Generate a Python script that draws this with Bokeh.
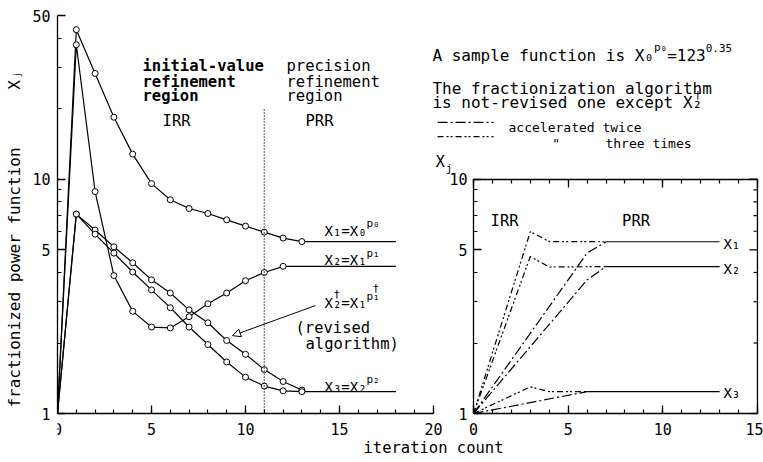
import math
from bokeh.plotting import figure
from bokeh.models import (Range1d, LinearAxis, LogAxis, FixedTicker, BasicTickFormatter,
                          Arrow, NormalHead)
from bokeh.embed import file_html
from bokeh.resources import INLINE
from bokeh.core.properties import value

FONT = "DejaVu Sans Mono"

# ---------------- data : left panel ----------------
iter_x1 = list(range(0, 14))
x1_vals = [1, 43.5, 28.3, 18.4, 12.8, 9.58, 8.17, 7.50, 7.14, 6.71, 6.31, 5.95, 5.61, 5.42]
iter_x2 = list(range(0, 13))
x2_vals = [1, 37.5, 8.86, 3.88, 2.73, 2.34, 2.32, 2.59, 2.94, 3.27, 3.69, 4.00, 4.25]
iter_x2r = list(range(0, 14))
x2r_vals = [1, 7.10, 6.07, 5.15, 4.40, 3.72, 3.27, 2.77, 2.44, 2.05, 1.79, 1.54, 1.37, 1.26]
iter_x3 = list(range(0, 14))
x3_vals = [1, 7.10, 5.83, 4.84, 4.02, 3.37, 2.83, 2.34, 1.97, 1.66, 1.43, 1.31, 1.25, 1.24]
hold_until = 18          # converged value drawn on to this iteration
boundary_iter = 11       # IRR / PRR boundary
boundary_top = 20

# ---------------- data : right panel ----------------
twice_x1 = [0, 6, 7]
x1_twice = [1, 4.84, 5.41]
twice_x2 = [0, 6, 7]
x2_twice = [1, 3.72, 4.24]
twice_x3 = [0, 6]
x3_twice = [1, 1.24]
three_x1 = [0, 3, 4, 7]
x1_three = [1, 5.98, 5.42, 5.41]
three_x2 = [0, 3, 4, 7]
x2_three = [1, 4.68, 4.22, 4.24]
three_x3 = [0, 3, 4, 6]
x3_three = [1, 1.30, 1.24, 1.24]
conv_start = [7, 7, 6]           # iteration where the accelerated runs have converged
conv_vals = [5.41, 4.24, 1.24]   # X1, X2, X3
conv_end = 13

left_xlim = (0, 20)
left_ylim = (1, 50)
right_xlim = (0, 15)
right_ylim = (1, 10)
left_xticks = [0, 5, 10, 15, 20]
left_xminor = list(range(0, 21))
right_xticks = [0, 5, 10, 15]
right_xminor = list(range(0, 16))
left_yticks = [1, 5, 10, 50]
left_yminor = [2, 3, 4, 6, 7, 8, 9, 20, 30, 40]
right_yticks = [1, 5, 10]
right_yminor = [2, 3, 4, 6, 7, 8, 9]

DASH_TWICE = "10 3 2 3"
DASH_THREE = "6 3 2 2 2 3"
MAJ, MIN = 8, 4

p = figure(width=763, height=462, x_range=Range1d(0, 37.553), y_range=Range1d(0.618, 50),
           y_axis_type="log", output_backend="svg", toolbar_location=None,
           min_border_left=57, min_border_right=0, min_border_top=15, min_border_bottom=0)
p.extra_x_ranges = {"r": Range1d(-21.976, 15.319)}
p.grid.visible = False
p.outline_line_color = None
p.background_fill_color = "white"
p.border_fill_color = "white"


def style_axis(ax, labels=True):
    ax.axis_line_color = "black"
    ax.axis_line_width = 1.3
    ax.major_tick_in, ax.major_tick_out = MAJ, 0
    ax.minor_tick_in, ax.minor_tick_out = MIN, 0
    ax.major_tick_line_width = 1.3
    ax.minor_tick_line_width = 1.2
    ax.major_tick_line_color = "black"
    ax.minor_tick_line_color = "black"
    ax.major_label_text_font = FONT
    ax.major_label_text_font_size = "15px"
    ax.major_label_text_color = "black"
    if not labels:
        ax.major_label_text_alpha = 0


xa = p.xaxis[0]
xa.ticker = FixedTicker(ticks=left_xticks, minor_ticks=left_xminor)
xa.bounds = left_xlim
xa.fixed_location = 1
style_axis(xa)
xa.major_label_standoff = 9

ya = p.yaxis[0]
ya.ticker = FixedTicker(ticks=left_yticks, minor_ticks=left_yminor)
ya.formatter = BasicTickFormatter()
ya.bounds = left_ylim
style_axis(ya)
ya.major_label_standoff = 7
ya.axis_label = "fractionized power function" + "\u00a0" * 6 + "X\u2c7c"
ya.axis_label_text_font = FONT
ya.axis_label_text_font_size = "16px"
ya.axis_label_text_font_style = "normal"
ya.axis_label_text_color = "black"
ya.axis_label_standoff = 5

# small panel axes
rb = LinearAxis(x_range_name="r", fixed_location=1, bounds=right_xlim,
                ticker=FixedTicker(ticks=right_xticks, minor_ticks=right_xminor))
style_axis(rb)
rb.major_label_standoff = 9
p.add_layout(rb, "below")
rt = LinearAxis(x_range_name="r", fixed_location=10, bounds=right_xlim,
                ticker=FixedTicker(ticks=right_xticks, minor_ticks=right_xminor))
style_axis(rt, labels=False)
p.add_layout(rt, "above")
rl = LogAxis(x_range_name="r", fixed_location=0, bounds=right_ylim,
             ticker=FixedTicker(ticks=right_yticks, minor_ticks=right_yminor),
             formatter=BasicTickFormatter())
style_axis(rl)
rl.major_label_standoff = 6
p.add_layout(rl, "left")
# right edge of the small panel
p.line([right_xlim[1], right_xlim[1]], list(right_ylim), x_range_name="r",
       line_color="black", line_width=1.3)


# tick marks on the small panel's right edge, drawn as short screen-length rays
def tick_rays(xs, ys, angle, rng="default", length=MAJ, width=1.3):
    p.ray(x=xs, y=ys, length=length, angle=angle, length_units="screen",
          line_color="black", line_width=width, x_range_name=rng)


LEFT = math.pi
tick_rays([right_xlim[1]] * len(right_yticks), right_yticks, LEFT, "r")
tick_rays([right_xlim[1]] * len(right_yminor), right_yminor, LEFT, "r", length=MIN, width=1.2)

# ---------------- left panel curves ----------------
for xs, ys in [(iter_x1, x1_vals), (iter_x2, x2_vals), (iter_x3, x3_vals)]:
    p.line(xs + [hold_until], ys + [ys[-1]], line_color="black", line_width=1.2)
p.line(iter_x2r, x2r_vals, line_color="black", line_width=1.2)
for xs, ys in [(iter_x1, x1_vals), (iter_x2, x2_vals), (iter_x2r, x2r_vals), (iter_x3, x3_vals)]:
    p.scatter(xs[1:], ys[1:], marker="circle", size=6, fill_color="white",
              line_color="black", line_width=1)

p.line([boundary_iter, boundary_iter], [1, boundary_top], line_color="black",
       line_width=1.3, line_dash="1 2")

# ---------------- right panel curves ----------------
for xs, ys in [(twice_x1, x1_twice), (twice_x2, x2_twice), (twice_x3, x3_twice)]:
    p.line(xs, ys, x_range_name="r", line_color="black", line_width=1.2,
           line_dash=DASH_TWICE)
for xs, ys in [(three_x1, x1_three), (three_x2, x2_three), (three_x3, x3_three)]:
    p.line(xs, ys, x_range_name="r", line_color="black", line_width=1.2,
           line_dash=DASH_THREE)
for x0, v in zip(conv_start, conv_vals):
    p.line([x0, conv_end], [v, v], x_range_name="r", line_color="black", line_width=1.2)

# legend sample lines
p.line([-1.90, 1.06], [17.5, 17.5], x_range_name="r", line_color="black",
       line_width=1.2, line_dash=DASH_TWICE)
p.line([-1.90, 1.06], [15.2, 15.2], x_range_name="r", line_color="black",
       line_width=1.2, line_dash=DASH_THREE)


def txt(x, y, s, size="15.5px", style="normal", rng="default", dx=0, dy=0,
        align="left", baseline="alphabetic"):
    p.text(x=[x], y=[y], text=[s], text_font=value(FONT), text_font_size=size,
           text_font_style=style, x_offset=dx, y_offset=dy, text_align=align,
           text_baseline=baseline, text_color="black", x_range_name=rng)


# left panel texts
for t, yy in [("initial-value", 30.3), ("refinement", 26.1), ("region", 22.7)]:
    txt(4.52, yy, t, style="bold")
txt(5.59, 17.7, "IRR")
for t, yy in [("precision", 30.3), ("refinement", 26.1), ("region", 22.7)]:
    txt(12.18, yy, t)
txt(13.19, 17.7, "PRR")

FX = 14.2
txt(FX, 6.04, "X\u2081=X\u2080", size="14px")
txt(FX, 6.04, "p\u2080", size="11px", dx=42, dy=-7)
txt(FX, 4.50, "X\u2082=X\u2081", size="14px")
txt(FX, 4.50, "p\u2081", size="11px", dx=42, dy=-7)
txt(FX, 2.95, "X\u2082=X\u2081", size="14px")
txt(FX, 2.95, "\u2020", size="11px", dx=9, dy=-9)
txt(FX, 2.95, "p\u2081", size="11px", dx=42, dy=-7)
txt(FX, 2.95, "\u2020", size="11px", dx=48, dy=-15)
txt(12.66, 2.31, "(revised")
txt(13.19, 1.99, "algorithm)")
txt(FX, 1.30, "X\u2083=X\u2082", size="14px")
txt(FX, 1.30, "p\u2082", size="11px", dx=42, dy=-7)

p.add_layout(Arrow(end=NormalHead(size=8, fill_color="white", line_color="black", line_width=1),
                   x_start=13.72, y_start=2.89, x_end=9.31, y_end=2.15,
                   line_color="black", line_width=1))

txt(20, 0.716, "iteration count", align="center", baseline="middle")

# right panel texts
txt(0.90, 6.66, "IRR", rng="r")
txt(7.85, 6.66, "PRR", rng="r")
txt(13.2, 5.41, "X\u2081", size="14px", rng="r", baseline="middle", dy=2)
txt(13.2, 4.24, "X\u2082", size="14px", rng="r", baseline="middle", dy=2)
txt(13.2, 1.24, "X\u2083", size="14px", rng="r", baseline="middle", dy=1)
txt(-2.0, 11.8, "X", size="15px", rng="r")
txt(-2.0, 11.8, "j", size="11px", rng="r", dx=10, dy=6)

txt(-2.17, 33.7, "A sample function is X\u2080", size="16px", rng="r")
txt(-2.17, 33.7, "p\u2080", size="11px", rng="r", dx=221.5, dy=-8)
txt(-2.17, 33.7, "=123", size="16px", rng="r", dx=234.7)
txt(-2.17, 33.7, "0.35", size="11px", rng="r", dx=273.2, dy=-8)
txt(-2.17, 24.5, "The fractionization algorithm", size="16px", rng="r")
txt(-2.17, 21.3, "is not-revised one except X\u2082", size="16px", rng="r")
txt(-2.17, 21.3, "\u2020", size="11px", rng="r", dx=262, dy=-7)
txt(1.85, 16.6, "accelerated twice", size="13px", rng="r")
txt(4.16, 14.2, "\"", size="13px", rng="r")
txt(6.97, 14.2, "three times", size="13px", rng="r")

open("out.html", "w").write(file_html(p, INLINE))
